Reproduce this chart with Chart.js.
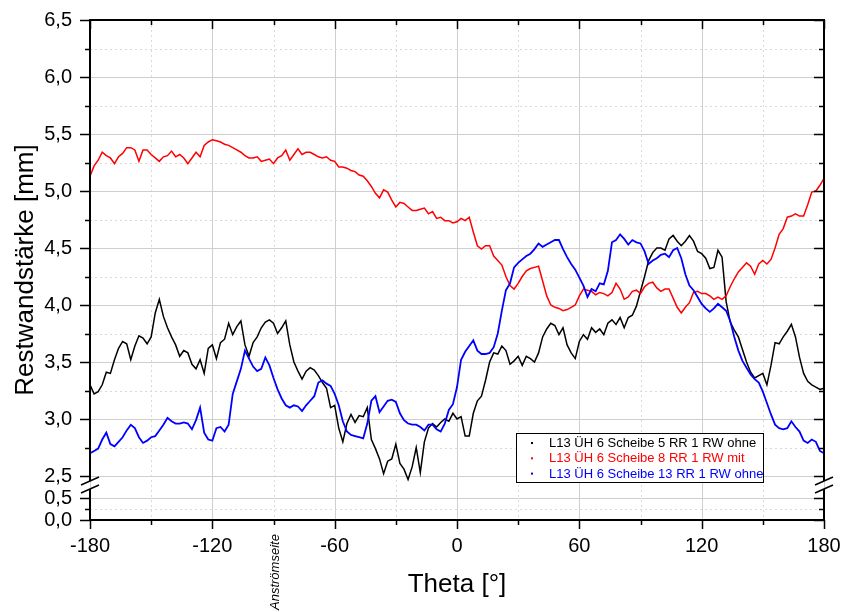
<!DOCTYPE html>
<html>
<head>
<meta charset="utf-8">
<script src="https://cdn.jsdelivr.net/npm/chart.js@4.4.0/dist/chart.umd.min.js"></script>
<style>
  html, body { margin: 0; padding: 0; background: #fff; }
  #wrap { width: 841px; height: 612px; }
</style>
</head>
<body>
<div id="wrap"><canvas id="restwand" width="841" height="612"></canvas></div>
<script>
// Theta positions [deg]
const theta = [
  -180, -178, -176, -174, -172, -170, -168, -166, -164, -162,
  -160, -158, -156, -154, -152, -150, -148, -146, -144, -142,
  -140, -138, -136, -134, -132, -130, -128, -126, -124, -122,
  -120, -118, -116, -114, -112, -110, -108, -106, -104, -102,
  -100, -98, -96, -94, -92, -90, -88, -86, -84, -82,
  -80, -78, -76, -74, -72, -70, -68, -66, -64, -62,
  -60, -58, -56, -54, -52, -50, -48, -46, -44, -42,
  -40, -38, -36, -34, -32, -30, -28, -26, -24, -22,
  -20, -18, -16, -14, -12, -10, -8, -6, -4, -2,
  0, 2, 4, 6, 8, 10, 12, 14, 16, 18,
  20, 22, 24, 26, 28, 30, 32, 34, 36, 38,
  40, 42, 44, 46, 48, 50, 52, 54, 56, 58,
  60, 62, 64, 66, 68, 70, 72, 74, 76, 78,
  80, 82, 84, 86, 88, 90, 92, 94, 96, 98,
  100, 102, 104, 106, 108, 110, 112, 114, 116, 118,
  120, 122, 124, 126, 128, 130, 132, 134, 136, 138,
  140, 142, 144, 146, 148, 150, 152, 154, 156, 158,
  160, 162, 164, 166, 168, 170, 172, 174, 176, 178,
  180
];

// Restwandstärke [mm], Scheibe 5 (ohne RW)
const scheibe5 = [
  3.30, 3.22, 3.24, 3.30, 3.41, 3.40, 3.52, 3.62, 3.68, 3.66,
  3.52, 3.64, 3.73, 3.71, 3.66, 3.72, 3.93, 4.05, 3.90, 3.80,
  3.72, 3.65, 3.55, 3.60, 3.58, 3.48, 3.44, 3.52, 3.40, 3.62,
  3.65, 3.53, 3.67, 3.70, 3.84, 3.74, 3.81, 3.86, 3.65, 3.55,
  3.67, 3.72, 3.80, 3.85, 3.87, 3.84, 3.75, 3.80, 3.86, 3.65,
  3.50, 3.42, 3.35, 3.42, 3.45, 3.43, 3.38, 3.32, 3.27, 3.10,
  3.12, 2.92, 2.80, 2.96, 3.04, 2.97, 3.03, 3.02, 3.10, 2.82,
  2.74, 2.65, 2.52, 2.63, 2.65, 2.78, 2.61, 2.56, 2.47, 2.58,
  2.75, 2.53, 2.80, 2.92, 2.96, 2.93, 2.97, 3.00, 2.98, 3.05,
  3.00, 3.02, 2.85, 2.85, 3.05, 3.16, 3.20, 3.34, 3.50, 3.58,
  3.57, 3.64, 3.60, 3.48, 3.51, 3.55, 3.47, 3.55, 3.53, 3.50,
  3.58, 3.72, 3.79, 3.84, 3.82, 3.74, 3.80, 3.65, 3.58, 3.53,
  3.68, 3.74, 3.70, 3.80, 3.76, 3.79, 3.74, 3.84, 3.87, 3.83,
  3.89, 3.80, 3.89, 3.91, 3.99, 4.12, 4.25, 4.39, 4.46, 4.50,
  4.50, 4.48, 4.58, 4.61, 4.56, 4.52, 4.56, 4.61, 4.56, 4.47,
  4.45, 4.41, 4.32, 4.33, 4.48, 4.42, 4.03, 3.85, 3.78, 3.72,
  3.61, 3.50, 3.41, 3.36, 3.38, 3.40, 3.30, 3.47, 3.67, 3.66,
  3.72, 3.77, 3.83, 3.72, 3.54, 3.40, 3.33, 3.30, 3.28, 3.26,
  3.27
];

// Scheibe 8 (mit RW)
const scheibe8 = [
  5.13, 5.22, 5.27, 5.34, 5.31, 5.29, 5.24, 5.30, 5.33, 5.38,
  5.38, 5.36, 5.26, 5.36, 5.36, 5.32, 5.29, 5.26, 5.30, 5.31,
  5.35, 5.30, 5.32, 5.29, 5.24, 5.29, 5.34, 5.30, 5.40, 5.43,
  5.45, 5.44, 5.43, 5.41, 5.40, 5.38, 5.36, 5.34, 5.31, 5.29,
  5.29, 5.30, 5.26, 5.27, 5.28, 5.24, 5.29, 5.31, 5.36, 5.27,
  5.32, 5.37, 5.32, 5.34, 5.34, 5.32, 5.30, 5.29, 5.30, 5.27,
  5.26, 5.21, 5.21, 5.20, 5.18, 5.17, 5.14, 5.13, 5.09, 5.04,
  4.98, 4.94, 5.01, 4.99, 4.92, 4.86, 4.90, 4.89, 4.86, 4.83,
  4.83, 4.84, 4.85, 4.80, 4.82, 4.76, 4.77, 4.74, 4.74, 4.72,
  4.73, 4.76, 4.74, 4.77, 4.64, 4.52, 4.49, 4.52, 4.52, 4.43,
  4.39, 4.35, 4.25, 4.17, 4.14, 4.19, 4.25, 4.30, 4.32, 4.33,
  4.34, 4.21, 4.08, 4.00, 3.98, 3.97, 3.95, 3.96, 3.98, 4.00,
  4.08, 4.14, 4.13, 4.12, 4.09, 4.11, 4.10, 4.08, 4.11, 4.19,
  4.14, 4.05, 4.07, 4.12, 4.13, 4.10, 4.16, 4.19, 4.20, 4.15,
  4.12, 4.14, 4.14, 4.06, 3.98, 3.93, 3.98, 4.02, 4.11, 4.12,
  4.10, 4.10, 4.08, 4.05, 4.07, 4.05, 4.08, 4.16, 4.23, 4.29,
  4.33, 4.37, 4.34, 4.27, 4.36, 4.39, 4.36, 4.40, 4.50, 4.62,
  4.67, 4.77, 4.78, 4.80, 4.78, 4.78, 4.88, 4.99, 5.00, 5.05,
  5.11
];

// Scheibe 13 (ohne RW)
const scheibe13 = [
  2.70, 2.72, 2.74, 2.82, 2.88, 2.78, 2.76, 2.80, 2.84, 2.90,
  2.95, 2.92, 2.84, 2.79, 2.81, 2.84, 2.85, 2.90, 2.95, 3.01,
  2.98, 2.96, 2.96, 2.97, 2.96, 2.91, 2.99, 3.10, 2.88, 2.82,
  2.81, 2.92, 2.93, 2.89, 2.95, 3.22, 3.33, 3.44, 3.60, 3.53,
  3.46, 3.42, 3.44, 3.54, 3.47, 3.36, 3.26, 3.18, 3.12, 3.10,
  3.12, 3.11, 3.07, 3.12, 3.16, 3.20, 3.32, 3.34, 3.31, 3.29,
  3.22, 3.12, 2.98, 2.89, 2.86, 2.85, 2.84, 2.83, 2.96, 3.16,
  3.20, 3.06, 3.11, 3.16, 3.17, 3.15, 3.05, 2.99, 2.96, 2.95,
  2.95, 2.93, 2.90, 2.95, 2.95, 2.91, 2.89, 2.96, 3.08, 3.13,
  3.28, 3.52, 3.59, 3.64, 3.69, 3.60, 3.57, 3.57, 3.58, 3.63,
  3.75, 3.95, 4.13, 4.19, 4.33, 4.37, 4.40, 4.43, 4.45, 4.49,
  4.54, 4.51, 4.53, 4.55, 4.57, 4.57, 4.49, 4.42, 4.36, 4.31,
  4.24, 4.17, 4.07, 4.14, 4.12, 4.19, 4.18, 4.30, 4.55, 4.57,
  4.62, 4.58, 4.53, 4.57, 4.55, 4.54, 4.47, 4.36, 4.39, 4.41,
  4.44, 4.45, 4.42, 4.48, 4.50, 4.41, 4.27, 4.17, 4.13, 4.07,
  4.01, 3.97, 3.94, 3.97, 4.01, 3.98, 3.95, 3.86, 3.72, 3.60,
  3.51, 3.45, 3.39, 3.35, 3.32, 3.24, 3.14, 3.04, 2.95, 2.92,
  2.91, 2.92, 2.98, 2.93, 2.89, 2.81, 2.79, 2.82, 2.80, 2.72,
  2.70
];

const seriesLabels = [
  'L13 ÜH 6 Scheibe 5 RR 1 RW ohne',
  'L13 ÜH 6 Scheibe 8 RR 1 RW mit',
  'L13 ÜH 6 Scheibe 13 RR 1 RW ohne'
];

// tick positions
const xMajor = [-180, -120, -60, 0, 60, 120, 180];
const xMinor = [-150, -90, -30, 30, 90, 150];
const yMajor = [2.5, 3.0, 3.5, 4.0, 4.5, 5.0, 5.5, 6.0, 6.5];
const yMinor = [2.75, 3.25, 3.75, 4.25, 4.75, 5.25, 5.75, 6.25];
const lowMajor = [0, 0.5];
const lowMinor = [0.25];
const flowSideAt = -90;
const flowSideText = 'Anströmseite';

const FONT = '"Liberation Sans", Arial, Helvetica, sans-serif';
const comma = v => Number(v).toFixed(1).replace('.', ',');
const pts = vals => theta.map((t, i) => ({ x: t, y: vals[i] }));

// grid, frame with broken y axis, legend and extra labels
const framePlugin = {
  id: 'framePlugin',
  beforeDatasetsDraw(chart) {
    const { ctx, chartArea: a, scales: { x, y, y2 } } = chart;
    ctx.save();
    ctx.lineWidth = 1;
    const hLine = (sc, v) => { const p = Math.round(sc.getPixelForValue(v)) + 0.5; ctx.beginPath(); ctx.moveTo(a.left, p); ctx.lineTo(a.right, p); ctx.stroke(); };
    const vLine = v => { const p = Math.round(x.getPixelForValue(v)) + 0.5; ctx.beginPath(); ctx.moveTo(p, a.top); ctx.lineTo(p, a.bottom); ctx.stroke(); };
    ctx.strokeStyle = '#dadada';
    ctx.setLineDash([2, 3]);
    xMinor.forEach(vLine);
    yMinor.forEach(v => hLine(y, v));
    lowMinor.forEach(v => hLine(y2, v));
    ctx.setLineDash([]);
    ctx.strokeStyle = '#cfcfcf';
    xMajor.forEach(vLine);
    yMajor.forEach(v => hLine(y, v));
    lowMajor.forEach(v => hLine(y2, v));
    ctx.restore();
  },
  afterDatasetsDraw(chart) {
    const { ctx, chartArea: a, scales: { x, y, y2 } } = chart;
    const gap = y.bottom + 9;
    ctx.save();
    ctx.strokeStyle = '#000';
    ctx.lineWidth = 2;
    ctx.lineCap = 'butt';

    // top and bottom axis lines
    ctx.beginPath();
    ctx.moveTo(a.left - 1, a.top); ctx.lineTo(a.right + 1, a.top);
    ctx.moveTo(a.left - 1, a.bottom); ctx.lineTo(a.right + 1, a.bottom);
    ctx.stroke();

    // left/right axis lines, interrupted at the break
    [a.left, a.right].forEach(px => {
      ctx.beginPath();
      ctx.moveTo(px, a.top); ctx.lineTo(px, gap - 4);
      ctx.moveTo(px, gap + 4); ctx.lineTo(px, a.bottom);
      ctx.stroke();
      ctx.save();
      ctx.lineWidth = 1.5;
      ctx.beginPath();
      [-4, 4].forEach(d => {
        ctx.moveTo(px - 9, gap + d + 4); ctx.lineTo(px + 9, gap + d - 4);
      });
      ctx.stroke();
      ctx.restore();
    });

    // tick marks: outward on left/bottom, inward on right/top
    ctx.lineWidth = 1.5;
    ctx.beginPath();
    const xt = (v, len) => {
      const p = Math.round(x.getPixelForValue(v)) + 0.5;
      ctx.moveTo(p, a.bottom); ctx.lineTo(p, a.bottom + len);
      ctx.moveTo(p, a.top); ctx.lineTo(p, a.top + len);
    };
    const yt = (sc, v, len) => {
      const p = Math.round(sc.getPixelForValue(v)) + 0.5;
      ctx.moveTo(a.left, p); ctx.lineTo(a.left - len, p);
      ctx.moveTo(a.right, p); ctx.lineTo(a.right - len, p);
    };
    xMajor.forEach(v => xt(v, 9));
    xMinor.forEach(v => xt(v, 5));
    yMajor.forEach(v => yt(y, v, 10));
    yMinor.forEach(v => yt(y, v, 5));
    lowMajor.forEach(v => yt(y2, v, 10));
    lowMinor.forEach(v => yt(y2, v, 5));
    ctx.stroke();

    // axis titles
    ctx.fillStyle = '#000';
    ctx.font = '26px ' + FONT;
    ctx.textAlign = 'center';
    ctx.textBaseline = 'alphabetic';
    ctx.fillText('Theta [°]', (a.left + a.right) / 2, 592);
    ctx.save();
    ctx.translate(33, (a.top + a.bottom) / 2);
    ctx.rotate(-Math.PI / 2);
    ctx.fillText('Restwandstärke [mm]', 0, 0);
    ctx.restore();

    // flow side marker under the axis
    ctx.save();
    ctx.font = 'italic 13px ' + FONT;
    ctx.translate(x.getPixelForValue(flowSideAt) + 5, 610);
    ctx.rotate(-Math.PI / 2);
    ctx.textAlign = 'left';
    ctx.fillText(flowSideText, 0, 0);
    ctx.restore();

    // legend box
    const bx = 516, by = 433, bw = 247, bh = 49;
    ctx.fillStyle = '#fff';
    ctx.fillRect(bx, by, bw, bh);
    ctx.lineWidth = 1;
    ctx.strokeStyle = '#000';
    ctx.strokeRect(bx + 0.5, by + 0.5, bw, bh);
    ctx.font = '13px ' + FONT;
    ctx.textAlign = 'left';
    chart.data.datasets.forEach((ds, i) => {
      const base = by + 14 + i * 15.3;
      ctx.fillStyle = ds.borderColor;
      ctx.fillRect(531, base - 5, 2, 2);
      ctx.fillText(ds.label, 549, base);
    });
    ctx.restore();
  }
};

const clip = { left: 2, right: 2, top: 2, bottom: 10 };

// keep tick labels from widening the layout
const noOverhangX = sc => { sc.height = 92; sc.paddingLeft = 0; sc.paddingRight = 0; };
const noOverhangY = sc => { sc.width = 90; sc.paddingTop = 0; sc.paddingBottom = 0; };

new Chart(document.getElementById('restwand'), {
  type: 'line',
  data: {
    datasets: [
      { label: seriesLabels[0], data: pts(scheibe5), borderColor: '#000000', borderWidth: 1.5, order: 3, clip: clip },
      { label: seriesLabels[1], data: pts(scheibe8), borderColor: '#ff0000', borderWidth: 1.5, order: 2, clip: clip },
      { label: seriesLabels[2], data: pts(scheibe13), borderColor: '#0000ff', borderWidth: 1.8, order: 1, clip: clip }
    ]
  },
  options: {
    responsive: false,
    animation: false,
    layout: { padding: { top: 20, right: 17, left: 0, bottom: 0 } },
    elements: { point: { radius: 0 }, line: { tension: 0 } },
    plugins: { legend: { display: false }, tooltip: { enabled: false } },
    scales: {
      x: {
        type: 'linear', min: -180, max: 180,
        grid: { display: false, drawTicks: false },
        border: { display: false },
        afterBuildTicks: sc => { sc.ticks = xMajor.map(v => ({ value: v })); },
        afterFit: noOverhangX,
        ticks: { color: '#000', padding: 14, maxRotation: 0, autoSkip: false, font: { family: FONT, size: 20 } }
      },
      y: {
        type: 'linear', min: 2.5, max: 6.5,
        position: 'left', stack: 'rest', stackWeight: 456, weight: 2,
        grid: { display: false, drawTicks: false },
        border: { display: false },
        afterBuildTicks: sc => { sc.ticks = yMajor.map(v => ({ value: v })); },
        afterFit: noOverhangY,
        ticks: { color: '#000', padding: 18, autoSkip: false, callback: v => comma(v), font: { family: FONT, size: 20 } }
      },
      y2: {
        type: 'linear', min: 0, max: 1.0,
        position: 'left', stack: 'rest', stackWeight: 44, weight: 1,
        grid: { display: false, drawTicks: false },
        border: { display: false },
        afterBuildTicks: sc => { sc.ticks = lowMajor.map(v => ({ value: v })); },
        afterFit: noOverhangY,
        ticks: { color: '#000', padding: 18, autoSkip: false, callback: v => comma(v), font: { family: FONT, size: 20 } }
      }
    }
  },
  plugins: [framePlugin]
});
</script>
</body>
</html>
